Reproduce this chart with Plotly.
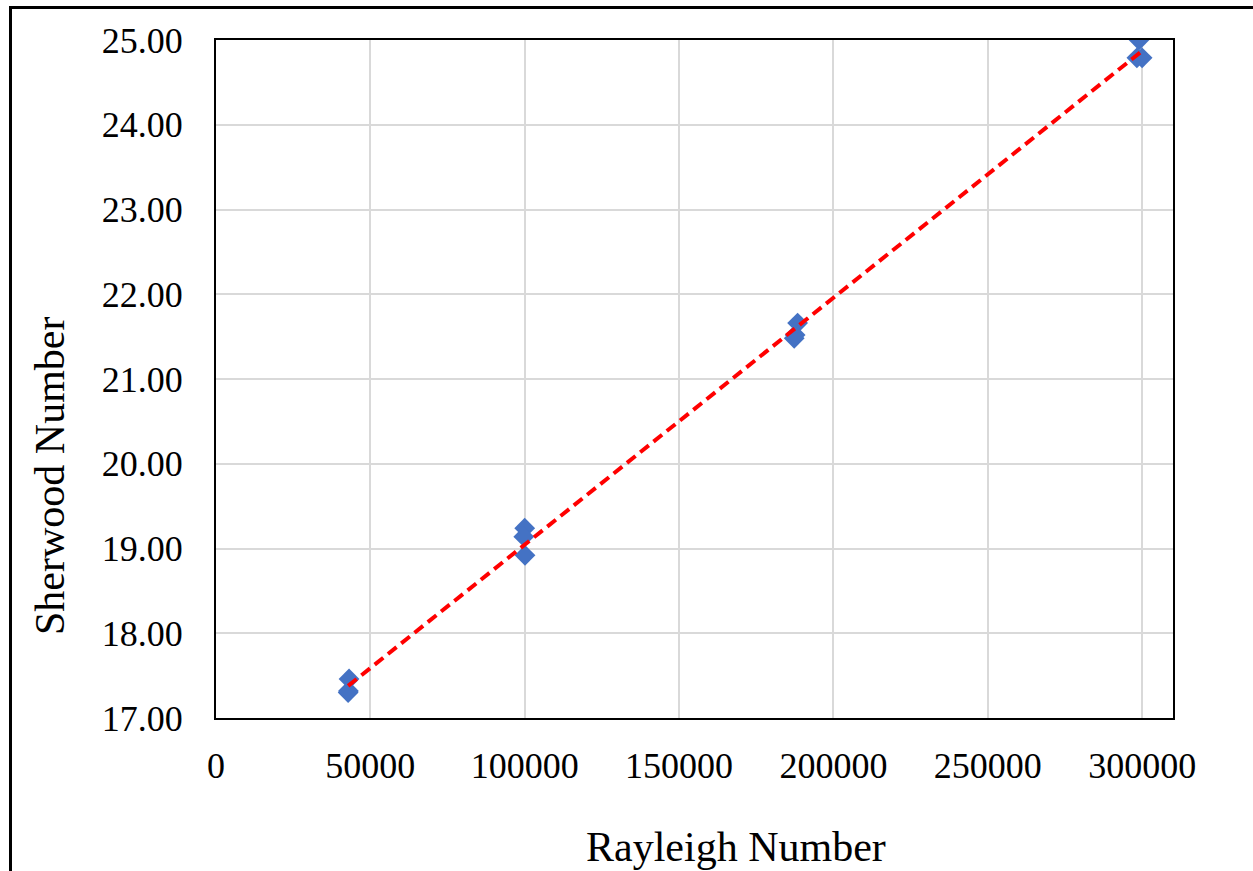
import numpy as np
import plotly.graph_objects as go

# Measured Sherwood numbers against Rayleigh number
rayleigh = [42800, 42900, 43100, 100000, 99700, 100100,
            187300, 187600, 188400, 299000, 298300, 300000]
sherwood = [17.30, 17.32, 17.46, 19.24, 19.14, 18.92,
            21.48, 21.52, 21.66, 25.00, 24.79, 24.79]

x_ticks = [0, 50000, 100000, 150000, 200000, 250000, 300000]
y_ticks = [17, 18, 19, 20, 21, 22, 23, 24, 25]

# Least-squares linear trend across the measured range
coef = np.polyfit(rayleigh, sherwood, 1)
trend_x = np.array([min(rayleigh), max(rayleigh)])
trend_y = np.polyval(coef, trend_x)

W, H = 1253, 871
ML, MR, MT, MB = 216, 80, 40, 153
PW, PH = W - ML - MR, H - MT - MB

FONT = "Liberation Serif, Times New Roman, serif"


def px_to_paper(px, py):
    return (px - ML) / PW, 1 - (py - MT) / PH


fig = go.Figure()
fig.add_trace(go.Scatter(
    x=rayleigh, y=sherwood, mode="markers",
    marker=dict(symbol="diamond", size=16, color="#4472C4",
                line=dict(width=0)),
    showlegend=False,
))
fig.add_trace(go.Scatter(
    x=trend_x, y=trend_y, mode="lines",
    line=dict(color="#FF0000", width=4, dash="11px,6px"),
    showlegend=False,
))

# Chart-area frame (left and top edges visible)
fx, fy = px_to_paper(10.5, 7.5)
fig.add_shape(type="path", xref="paper", yref="paper",
              path=f"M {fx},-0.5 L {fx},{fy} L 1.2,{fy}",
              line=dict(color="black", width=3))

# Axis titles
tx, ty = px_to_paper(736, 847)
fig.add_annotation(text="Rayleigh Number", xref="paper", yref="paper",
                   x=tx, y=ty, showarrow=False,
                   xanchor="center", yanchor="middle",
                   font=dict(family=FONT, size=42, color="black"))
sx, sy = px_to_paper(50, 476)
fig.add_annotation(text="Sherwood Number", xref="paper", yref="paper",
                   x=sx, y=sy, showarrow=False, textangle=-90,
                   xanchor="center", yanchor="middle",
                   font=dict(family=FONT, size=42, color="black"))

axis_common = dict(
    showline=True, linecolor="black", linewidth=2, mirror=True,
    showgrid=True, gridcolor="#D9D9D9", gridwidth=2,
    zeroline=False, ticks="", automargin=False,
    tickfont=dict(family=FONT, size=36, color="black"),
)

fig.update_layout(
    width=W, height=H,
    margin=dict(l=ML, r=MR, t=MT, b=MB, pad=0),
    paper_bgcolor="white", plot_bgcolor="white",
    font=dict(family=FONT, color="black"),
    xaxis=dict(
        range=[0, 310000], tickvals=x_ticks,
        ticktext=[str(v) for v in x_ticks],
        ticklabelstandoff=15,
        **axis_common,
    ),
    yaxis=dict(
        range=[17, 25], tickvals=y_ticks,
        ticktext=[f"{v:.2f}" for v in y_ticks],
        ticklabelstandoff=24,
        **axis_common,
    ),
)

fig.write_html("out.html")
